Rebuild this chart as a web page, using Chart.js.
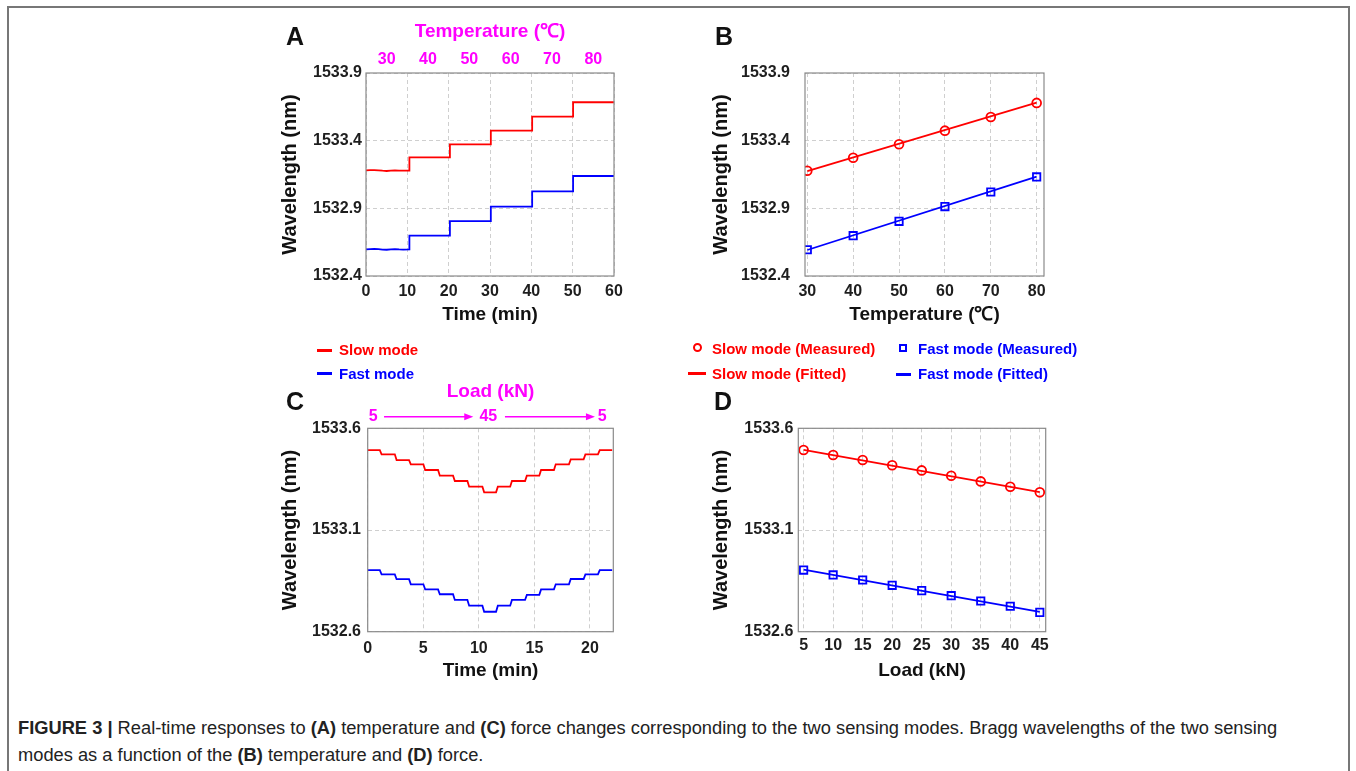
<!DOCTYPE html>
<html><head><meta charset="utf-8">
<script src="https://cdn.jsdelivr.net/npm/chart.js@4.4.1/dist/chart.umd.min.js"></script>
<style>
html,body{margin:0;padding:0;background:#fff;}
body{width:1356px;height:771px;overflow:hidden;position:relative;font-family:"Liberation Sans",Arial,sans-serif;}
.frame{position:absolute;left:7px;top:6px;width:1343px;height:820px;border:2px solid #777;box-sizing:border-box;}
canvas{position:absolute;}
.lbl{position:absolute;font-weight:bold;font-size:25px;color:#111;line-height:25px;height:25px;}
.leg{position:absolute;font-weight:bold;font-size:15px;white-space:nowrap;line-height:20px;height:20px;}
.red{color:#ff0000;} .blue{color:#0000ff;}
.ln{position:absolute;height:3px;}
.circ{position:absolute;width:5px;height:5px;border:2.5px solid #ff0000;border-radius:50%;}
.sq{position:absolute;width:4px;height:4px;border:2.5px solid #0000ff;}
.cap{position:absolute;left:18px;white-space:nowrap;color:#222;font-size:16px;line-height:20px;}
</style>
</head><body>
<div class="frame"></div>
<canvas id="cA" width="360" height="320" style="left:270px;top:10px"></canvas>
<canvas id="cB" width="370" height="320" style="left:690px;top:10px"></canvas>
<canvas id="cC" width="360" height="320" style="left:270px;top:380px"></canvas>
<canvas id="cD" width="370" height="320" style="left:690px;top:380px"></canvas>

<div class="lbl" style="left:286px;top:24px">A</div>
<div class="lbl" style="left:715px;top:24px">B</div>
<div class="lbl" style="left:286px;top:389px">C</div>
<div class="lbl" style="left:714px;top:389px">D</div>

<div class="ln" style="left:317px;top:348.5px;width:15px;background:#ff0000"></div>
<div class="leg red" style="left:339px;top:340px">Slow mode</div>
<div class="ln" style="left:317px;top:372px;width:15px;background:#0000ff"></div>
<div class="leg blue" style="left:339px;top:363.5px">Fast mode</div>

<div class="circ" style="left:692.5px;top:342.5px"></div>
<div class="leg red" style="left:712px;top:338.5px">Slow mode (Measured)</div>
<div class="ln" style="left:688px;top:372px;width:18px;background:#ff0000"></div>
<div class="leg red" style="left:712px;top:363.5px">Slow mode (Fitted)</div>
<div class="sq" style="left:899px;top:344px"></div>
<div class="leg blue" style="left:918px;top:338.5px">Fast mode (Measured)</div>
<div class="ln" style="left:896px;top:372.5px;width:15px;background:#0000ff"></div>
<div class="leg blue" style="left:918px;top:364px">Fast mode (Fitted)</div>

<div class="cap" id="cap1" style="top:718px"><b>FIGURE 3 |</b> Real-time responses to <b>(A)</b> temperature and <b>(C)</b> force changes corresponding to the two sensing modes. Bragg wavelengths of the two sensing</div>
<div class="cap" id="cap2" style="top:745px">modes as a function of the <b>(B)</b> temperature and <b>(D)</b> force.</div>

<script>
// ---------------- DATA ----------------
// Panel A: real-time response to temperature
const A_SEG1_TIME = [0, 1, 2, 3, 4, 5, 6, 7, 8, 9, 10.5];
const A_SLOW_SEG1 = [1533.180, 1533.182, 1533.183, 1533.181, 1533.178, 1533.176, 1533.179, 1533.181, 1533.179, 1533.178, 1533.179];
const A_FAST_SEG1 = [1532.596, 1532.599, 1532.601, 1532.598, 1532.595, 1532.594, 1532.597, 1532.599, 1532.596, 1532.595, 1532.597];
const A_SWITCH = [10.5, 20.3, 30.2, 40.2, 50.1];
const A_SLOW_LEVELS = [1533.276, 1533.373, 1533.474, 1533.578, 1533.684];
const A_FAST_LEVELS = [1532.698, 1532.806, 1532.912, 1533.026, 1533.139];
const A_END = 60;
const A_X_TICKS = [0, 10, 20, 30, 40, 50, 60];
const A_TOP_POS = [5, 15, 25, 35, 45, 55];
const A_TOP_LABELS = ['30', '40', '50', '60', '70', '80'];
const AB_Y_TICKS = [1532.4, 1532.9, 1533.4, 1533.9];

// Panel B: wavelength vs temperature
const B_TEMP = [30, 40, 50, 60, 70, 80];
const B_SLOW = [1533.178, 1533.274, 1533.373, 1533.474, 1533.575, 1533.679];
const B_FAST = [1532.594, 1532.698, 1532.804, 1532.913, 1533.021, 1533.132];
const B_FIT_X = [30, 80];
const B_SLOW_FIT = [1533.175, 1533.681];
const B_FAST_FIT = [1532.592, 1533.134];
const B_X_TICKS = [30, 40, 50, 60, 70, 80];

// Panel C: real-time response to load
const C_SWITCH = [1.17, 2.52, 3.80, 5.09, 6.41, 7.76, 9.05, 10.40, 11.63, 12.90, 14.24, 15.52, 16.84, 18.19, 19.51, 20.80];
const C_SLOW = [1533.493, 1533.472, 1533.444, 1533.423, 1533.395, 1533.367, 1533.341, 1533.313, 1533.285,
                1533.313, 1533.341, 1533.367, 1533.395, 1533.423, 1533.447, 1533.472, 1533.493];
const C_FAST = [1532.903, 1532.882, 1532.858, 1532.833, 1532.808, 1532.784, 1532.756, 1532.728, 1532.698,
                1532.728, 1532.756, 1532.781, 1532.808, 1532.833, 1532.859, 1532.882, 1532.903];
const C_END = 22.0;
const C_RAMP = 0.16;
const C_X_TICKS = [0, 5, 10, 15, 20];
const C_TOP_POS = [0.5, 10.85, 21.1];
const C_TOP_LABELS = ['5', '45', '5'];
const C_ARROWS = [[1.47, 9.5], [12.35, 20.45]];
const CD_Y_TICKS = [1532.6, 1533.1, 1533.6];

// Panel D: wavelength vs load
const D_LOAD = [5, 10, 15, 20, 25, 30, 35, 40, 45];
const D_SLOW = [1533.493, 1533.469, 1533.444, 1533.418, 1533.393, 1533.367, 1533.339, 1533.313, 1533.285];
const D_FAST = [1532.903, 1532.879, 1532.854, 1532.828, 1532.802, 1532.777, 1532.751, 1532.725, 1532.695];
const D_FIT_X = [5, 45];
const D_SLOW_FIT = [1533.494, 1533.286];
const D_FAST_FIT = [1532.905, 1532.697];
const D_X_TICKS = [5, 10, 15, 20, 25, 30, 35, 40, 45];

// ---------------- STYLE ----------------
const FONT = '"Liberation Sans", Arial, sans-serif';
const RED = '#ff0000', BLUE = '#0000ff', MAG = '#ff00ff';
const GRID = '#cfcfcf', TICK = '#1e1e1e', TITLE = '#111';
Chart.defaults.font.family = FONT;
Chart.defaults.animation = false;

// ---------------- helpers ----------------
const xy = (xs, ys) => xs.map((x, i) => ({x: x, y: ys[i]}));

function stepA(seg1, levels) {
  const pts = xy(A_SEG1_TIME, seg1);
  for (let i = 0; i < levels.length; i++) {
    const t0 = A_SWITCH[i];
    const t1 = i + 1 < A_SWITCH.length ? A_SWITCH[i + 1] : A_END;
    pts.push({x: t0, y: levels[i]}, {x: t1, y: levels[i]});
  }
  return pts;
}
function stepC(levels) {
  const pts = [{x: 0, y: levels[0]}];
  C_SWITCH.forEach((t, i) => {
    pts.push({x: t - C_RAMP / 2, y: levels[i]}, {x: t + C_RAMP / 2, y: levels[i + 1]});
  });
  pts.push({x: C_END, y: levels[levels.length - 1]});
  return pts;
}

const frame = {
  id: 'frame',
  afterDatasetsDraw(c) {
    const a = c.chartArea, ctx = c.ctx;
    ctx.save();
    ctx.strokeStyle = '#8a8a8a';
    ctx.lineWidth = 1.2;
    ctx.strokeRect(a.left, a.top, a.right - a.left, a.bottom - a.top);
    ctx.restore();
  }
};

function yAxis(min, max, ticks, width, pad, titlePad) {
  return {
    type: 'linear', position: 'left', min: min, max: max,
    afterBuildTicks: s => { s.ticks = ticks.map(v => ({value: v})); },
    afterFit: s => { s.width = width; },
    ticks: {callback: v => Number(v).toFixed(1), color: TICK, padding: pad,
            font: {size: 16, weight: 'bold'}},
    grid: {color: GRID, lineWidth: 1, drawTicks: false},
    border: {display: false, dash: [4, 3]},
    title: {display: true, text: 'Wavelength (nm)', color: TITLE,
            font: {size: 20, weight: 'bold'}, padding: {top: titlePad, bottom: 0}}
  };
}
function xAxis(min, max, ticks, height, pad, title, titlePad) {
  return {
    type: 'linear', position: 'bottom', min: min, max: max,
    afterBuildTicks: s => { s.ticks = ticks.map(v => ({value: v})); },
    afterFit: s => { s.height = height; },
    ticks: {callback: v => String(v), color: TICK, padding: pad, maxRotation: 0, autoSkip: false,
            font: {size: 16, weight: 'bold'}},
    grid: {color: GRID, lineWidth: 1, drawTicks: false},
    border: {display: false, dash: [4, 3]},
    title: {display: true, text: title, color: TITLE,
            font: {size: 19, weight: 'bold'}, padding: {top: 0, bottom: titlePad}}
  };
}
function topAxis(min, max, pos, labels, height, pad, title, titlePad) {
  return {
    type: 'linear', position: 'top', min: min, max: max,
    afterBuildTicks: s => { s.ticks = pos.map(v => ({value: v})); },
    afterFit: s => { s.height = height; },
    ticks: {callback: (v, i) => labels[i], color: MAG, padding: pad, maxRotation: 0, autoSkip: false,
            font: {size: 16, weight: 'bold'}},
    grid: {display: false, drawTicks: false},
    border: {display: false},
    title: {display: true, text: title, color: MAG,
            font: {size: 19, weight: 'bold'}, padding: {top: titlePad, bottom: 0}}
  };
}
const lineDS = (data, color) => ({data: data, borderColor: color, backgroundColor: color, borderWidth: 1.8,
  pointRadius: 0, showLine: true, tension: 0, fill: false});
const markDS = (data, color, style, r) => ({data: data, borderColor: color, backgroundColor: 'rgba(0,0,0,0)',
  borderWidth: 1.8, pointRadius: r, pointStyle: style, showLine: false});
const commonPlugins = {legend: {display: false}, tooltip: {enabled: false}};

// ---------------- Panel A ----------------
new Chart(document.getElementById('cA'), {
  type: 'scatter',
  data: {datasets: [lineDS(stepA(A_SLOW_SEG1, A_SLOW_LEVELS), RED), lineDS(stepA(A_FAST_SEG1, A_FAST_LEVELS), BLUE)]},
  options: {
    responsive: false, plugins: commonPlugins,
    layout: {padding: {left: 0, right: 16, top: 0, bottom: 0}},
    scales: {
      x: xAxis(0, 60, A_X_TICKS, 54, 6.4, 'Time (min)', 3.6),
      xTop: topAxis(0, 60, A_TOP_POS, A_TOP_LABELS, 63, 3.4, 'Temperature (℃)', 10.3),
      y: yAxis(1532.4, 1533.9, AB_Y_TICKS, 96, 4, 8.5)
    }
  },
  plugins: [frame]
});

// ---------------- Panel B ----------------
new Chart(document.getElementById('cB'), {
  type: 'scatter',
  data: {datasets: [
    lineDS(xy(B_FIT_X, B_SLOW_FIT), RED), lineDS(xy(B_FIT_X, B_FAST_FIT), BLUE),
    markDS(xy(B_TEMP, B_SLOW), RED, 'circle', 4.4), markDS(xy(B_TEMP, B_FAST), BLUE, 'rect', 5.2)
  ]},
  options: {
    responsive: false, plugins: commonPlugins,
    layout: {padding: {left: 0, right: 16, top: 63, bottom: 0}},
    scales: {
      x: xAxis(29.5, 81.6, B_X_TICKS, 54, 6.4, 'Temperature (℃)', 3.6),
      y: yAxis(1532.4, 1533.9, AB_Y_TICKS, 115, 15, 19)
    }
  },
  plugins: [frame]
});

// ---------------- Panel C ----------------
const arrows = {
  id: 'arrows',
  afterDraw(c) {
    const s = c.scales.xTop, ctx = c.ctx, y = c.chartArea.top - 11.6;
    ctx.save();
    ctx.strokeStyle = MAG; ctx.fillStyle = MAG; ctx.lineWidth = 1.6;
    C_ARROWS.forEach(([a, b]) => {
      const x1 = s.getPixelForValue(a), x2 = s.getPixelForValue(b);
      ctx.beginPath(); ctx.moveTo(x1, y); ctx.lineTo(x2 - 7, y); ctx.stroke();
      ctx.beginPath(); ctx.moveTo(x2, y); ctx.lineTo(x2 - 9, y - 3.5); ctx.lineTo(x2 - 9, y + 3.5); ctx.closePath(); ctx.fill();
    });
    ctx.restore();
  }
};
new Chart(document.getElementById('cC'), {
  type: 'scatter',
  data: {datasets: [lineDS(stepC(C_SLOW), RED), lineDS(stepC(C_FAST), BLUE)]},
  options: {
    responsive: false, plugins: commonPlugins,
    layout: {padding: {left: 0, right: 16.7, top: 0, bottom: 0}},
    scales: {
      x: xAxis(0, 22.1, C_X_TICKS, 68.3, 7, 'Time (min)', 18),
      xTop: topAxis(0, 22.1, C_TOP_POS, C_TOP_LABELS, 48.3, 2, 'Load (kN)', 0.3),
      y: yAxis(1532.6, 1533.6, CD_Y_TICKS, 97.7, 6.7, 8.5)
    }
  },
  plugins: [frame, arrows]
});

// ---------------- Panel D ----------------
new Chart(document.getElementById('cD'), {
  type: 'scatter',
  data: {datasets: [
    lineDS(xy(D_FIT_X, D_SLOW_FIT), RED), lineDS(xy(D_FIT_X, D_FAST_FIT), BLUE),
    markDS(xy(D_LOAD, D_SLOW), RED, 'circle', 4.4), markDS(xy(D_LOAD, D_FAST), BLUE, 'rect', 5.2)
  ]},
  options: {
    responsive: false, plugins: commonPlugins,
    layout: {padding: {left: 0, right: 14.3, top: 48.3, bottom: 0}},
    scales: {
      x: xAxis(4.1, 46.0, D_X_TICKS, 68.3, 4.7, 'Load (kN)', 18),
      y: yAxis(1532.6, 1533.6, CD_Y_TICKS, 108.3, 5, 19.5)
    }
  },
  plugins: [frame]
});

// fit caption first line to the reference width
(function () {
  const c1 = document.getElementById('cap1'), c2 = document.getElementById('cap2');
  const target = 1260;
  const w = c1.getBoundingClientRect().width;
  const fs = 16 * target / w;
  c1.style.fontSize = fs + 'px'; c2.style.fontSize = fs + 'px';
})();
</script>
</body></html>
